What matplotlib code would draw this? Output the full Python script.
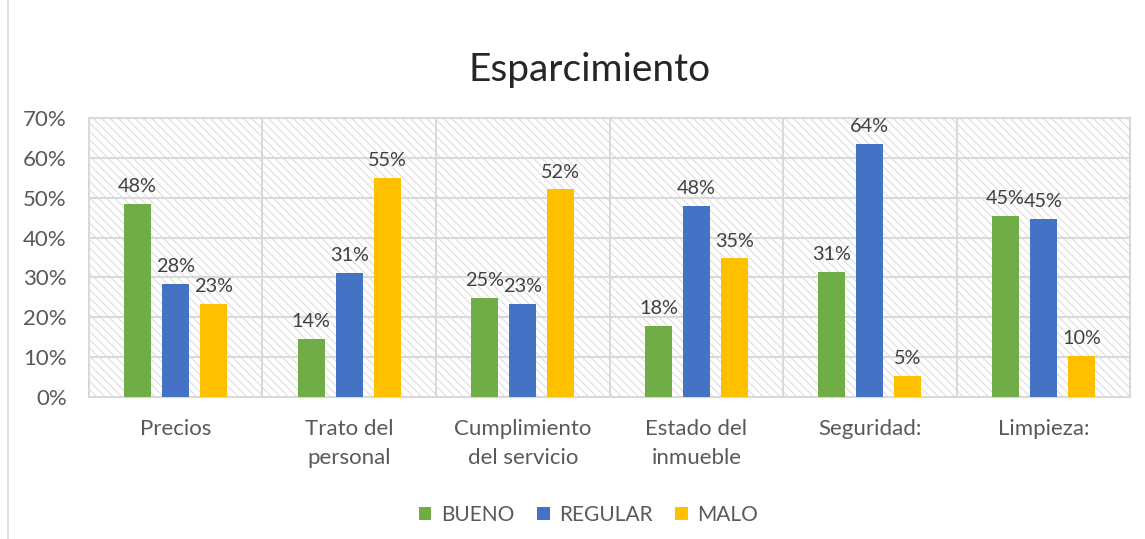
import matplotlib.pyplot as plt
import matplotlib.patches as mpatches
from matplotlib.lines import Line2D
import numpy as np

categories = ["Precios", "Trato del\npersonal", "Cumplimiento\ndel servicio",
              "Estado del\ninmueble", "Seguridad:", "Limpieza:"]
bueno = [0.484, 0.145, 0.248, 0.178, 0.313, 0.454]
regular = [0.284, 0.311, 0.233, 0.479, 0.636, 0.446]
malo = [0.233, 0.549, 0.521, 0.348, 0.052, 0.103]
series = [("BUENO", bueno, "#70ad47"), ("REGULAR", regular, "#4472c4"), ("MALO", malo, "#ffc000")]

plt.rcParams['font.family'] = ['Lato', 'DejaVu Sans']
plt.rcParams['hatch.linewidth'] = 0.7

fig = plt.figure(figsize=(11.45, 5.39), dpi=100)
ax = fig.add_axes([0.0777, 0.2635, 0.9093, 0.5175])

grid_c = "#d9d9d9"
text_c = "#595959"

# hatched plot background
bg = mpatches.Rectangle((0, 0), 1, 1, transform=ax.transAxes, facecolor="white",
                        edgecolor="#dadada", hatch="\\\\\\\\", lw=0, zorder=0)
ax.add_patch(bg)

x = np.arange(len(categories))
width = 0.156
step = 0.219
for i, (name, vals, color) in enumerate(series):
    pos = x + (i - 1) * step
    bars = ax.bar(pos, vals, width, color=color, label=name, zorder=3)
    for b, v in zip(bars, vals):
        ax.text(b.get_x() + b.get_width() / 2, v + 0.022, f"{round(v * 100):.0f}%",
                ha="center", va="bottom", fontsize=14.3, color="#404040", zorder=4)

ax.set_xlim(-0.5, len(categories) - 0.5)
ax.set_ylim(0, 0.70)
ax.set_yticks(np.arange(0, 0.71, 0.1))
ax.set_yticklabels([f"{int(round(t * 100))}%" for t in np.arange(0, 0.71, 0.1)])
ax.set_xticks(x)
ax.set_xticklabels(categories, linespacing=1.55)
ax.tick_params(axis="both", length=0, labelsize=16, labelcolor=text_c)
ax.tick_params(axis="x", pad=16)
ax.tick_params(axis="y", pad=16)

for t in np.arange(0.1, 0.71, 0.1):
    ax.axhline(t, color=grid_c, lw=1.5, zorder=1)
for b in np.arange(0.5, len(categories) - 0.5, 1):
    ax.axvline(b, color=grid_c, lw=1.5, zorder=1)
for s in ax.spines.values():
    s.set_color(grid_c)
    s.set_linewidth(1.5)

fig.text(0.515, 0.87, "Esparcimiento", fontsize=28, color="#262626", ha="center", va="center")

leg = fig.legend(loc="center", bbox_to_anchor=(0.514, 0.045), ncol=3, frameon=False,
                 fontsize=15, handlelength=0.6, handleheight=0.6, columnspacing=1.1,
                 handletextpad=0.45)
for t in leg.get_texts():
    t.set_color(text_c)

fig.add_artist(Line2D([0.007, 0.007], [0, 1], transform=fig.transFigure, color=grid_c, lw=1.2))

fig.savefig("out.png", dpi=100)
